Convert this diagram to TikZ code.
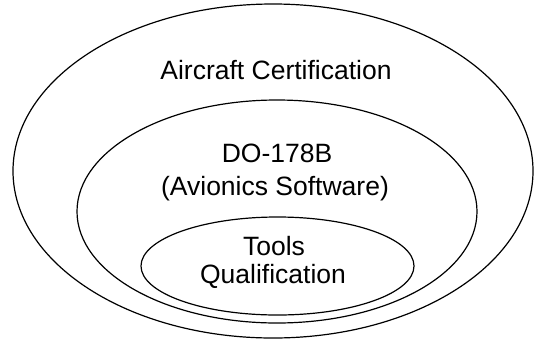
\documentclass[tikz,border=0pt]{standalone}
\usepackage{fontspec}
\setmainfont{Liberation Sans}
\usetikzlibrary{shapes.geometric}
\begin{document}
\begin{tikzpicture}[x=1pt,y=-1pt,
  ring/.style={draw=black,line width=1.2pt,ellipse,inner sep=0pt,fill=none},
  lbl/.style={anchor=base,inner sep=0pt,font=\fontsize{26.5}{31}\selectfont}]
\useasboundingbox[fill=white] (0,0) rectangle (535,341);
\node[ring,minimum width=520pt,minimum height=334pt] (outer) at (273,171) {};
\node[ring,minimum width=400pt,minimum height=223pt] (middle) at (277,211.5) {};
\node[ring,minimum width=273pt,minimum height=98pt] (inner) at (277.5,266) {};
\node[lbl] (ac) at (276,79.5) {Aircraft Certification};
\node[lbl] (do) at (277,162) {DO-178B};
\node[lbl] (av) at (275,195.5) {(Avionics Software)};
\node[lbl] (tl) at (274,255) {Tools};
\node[lbl] (ql) at (273,283) {Qualification};
\end{tikzpicture}
\end{document}
